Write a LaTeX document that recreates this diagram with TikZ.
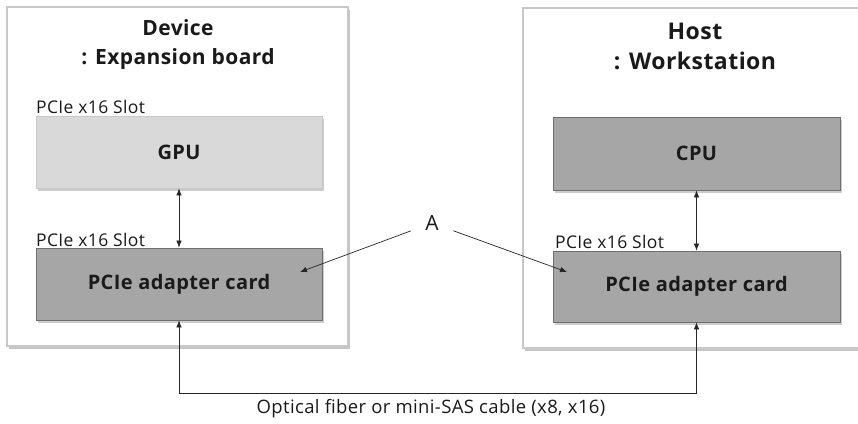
\documentclass[tikz,border=0pt]{standalone}
\usepackage{fontspec}
\setmainfont{Open Sans}[LetterSpace=2]
\usetikzlibrary{shadows,arrows.meta}
\definecolor{boxline}{HTML}{C8C8C8}
\definecolor{lightfill}{HTML}{D9D9D9}
\definecolor{darkfill}{HTML}{A6A6A6}
\definecolor{darkline}{HTML}{6E6E6E}
\definecolor{txt}{HTML}{1A1A1A}
\begin{document}
\begin{tikzpicture}[x=1pt,y=-1pt,
  >={Latex[length=7pt,width=5.5pt]},
  outerbox/.style={draw=boxline,line width=1.2pt,fill=white,drop shadow={shadow xshift=2pt,shadow yshift=-2.5pt,opacity=0.5,fill=black!45}},
  card/.style={draw=darkline,line width=0.8pt,minimum width=286pt,minimum height=72pt,inner sep=0pt,
     font=\fontsize{20}{22}\selectfont\bfseries,text=txt,drop shadow={shadow xshift=2pt,shadow yshift=-2.5pt,opacity=0.4,fill=black!50}},
  slot/.style={anchor=south west,inner sep=0pt,font=\fontsize{17.5}{19}\selectfont,text=txt},
  title/.style={align=center,font=\fontsize{21}{29}\selectfont\bfseries,text=txt},
  conn/.style={line width=0.7pt,draw=black!85}
]
\useasboundingbox (0,0) rectangle (858,423);
% outer boards
\path[outerbox] (7,7) rectangle (348,346);
\path[outerbox] (523,8) rectangle (866,348);
% titles
\node[title] (dev) at (178,45) {Device\\: Expansion board};
\node[title,font=\fontsize{23}{30}\selectfont\bfseries] (host) at (695,46) {Host\\: Workstation};
% cards
\node[card,fill=lightfill,draw=boxline] (gpu) at (179,152) {GPU};
\node[card,fill=darkfill] (lad) at (179,284) {PCIe adapter card};
\node[card,fill=darkfill,minimum width=287pt,minimum height=73pt] (cpu) at (696.5,153.5) {CPU};
\node[card,fill=darkfill,minimum width=287pt,minimum height=71pt] (rad) at (696.5,286.5) {PCIe adapter card};
% slot labels
\node[slot] (s1) at (36,114) {PCIe x16 Slot};
\node[slot] (s2) at (36,246.5) {PCIe x16 Slot};
\node[slot] (s3) at (555,248.5) {PCIe x16 Slot};
% vertical links
\draw[conn,<->] (gpu.south) -- (lad.north);
\draw[conn,<->] (cpu.south) -- (rad.north);
% cable
\coordinate (c1) at (179,393);
\draw[conn,<->] (lad.south) -- (c1) -| (rad.south);
\node[font=\fontsize{18.5}{20}\selectfont,text=txt] (cab) at (431,409) {Optical fiber or mini-SAS cable (x8, x16)};
% A label
\node[circle,minimum size=45pt,inner sep=0pt,font=\fontsize{21}{22}\selectfont,text=txt] (A) at (432,223) {A};
\coordinate (ta) at (300,272);
\coordinate (tb) at (567,272);
\draw[conn,->] (A) -- (ta);
\draw[conn,->] (A) -- (tb);
\end{tikzpicture}
\end{document}
